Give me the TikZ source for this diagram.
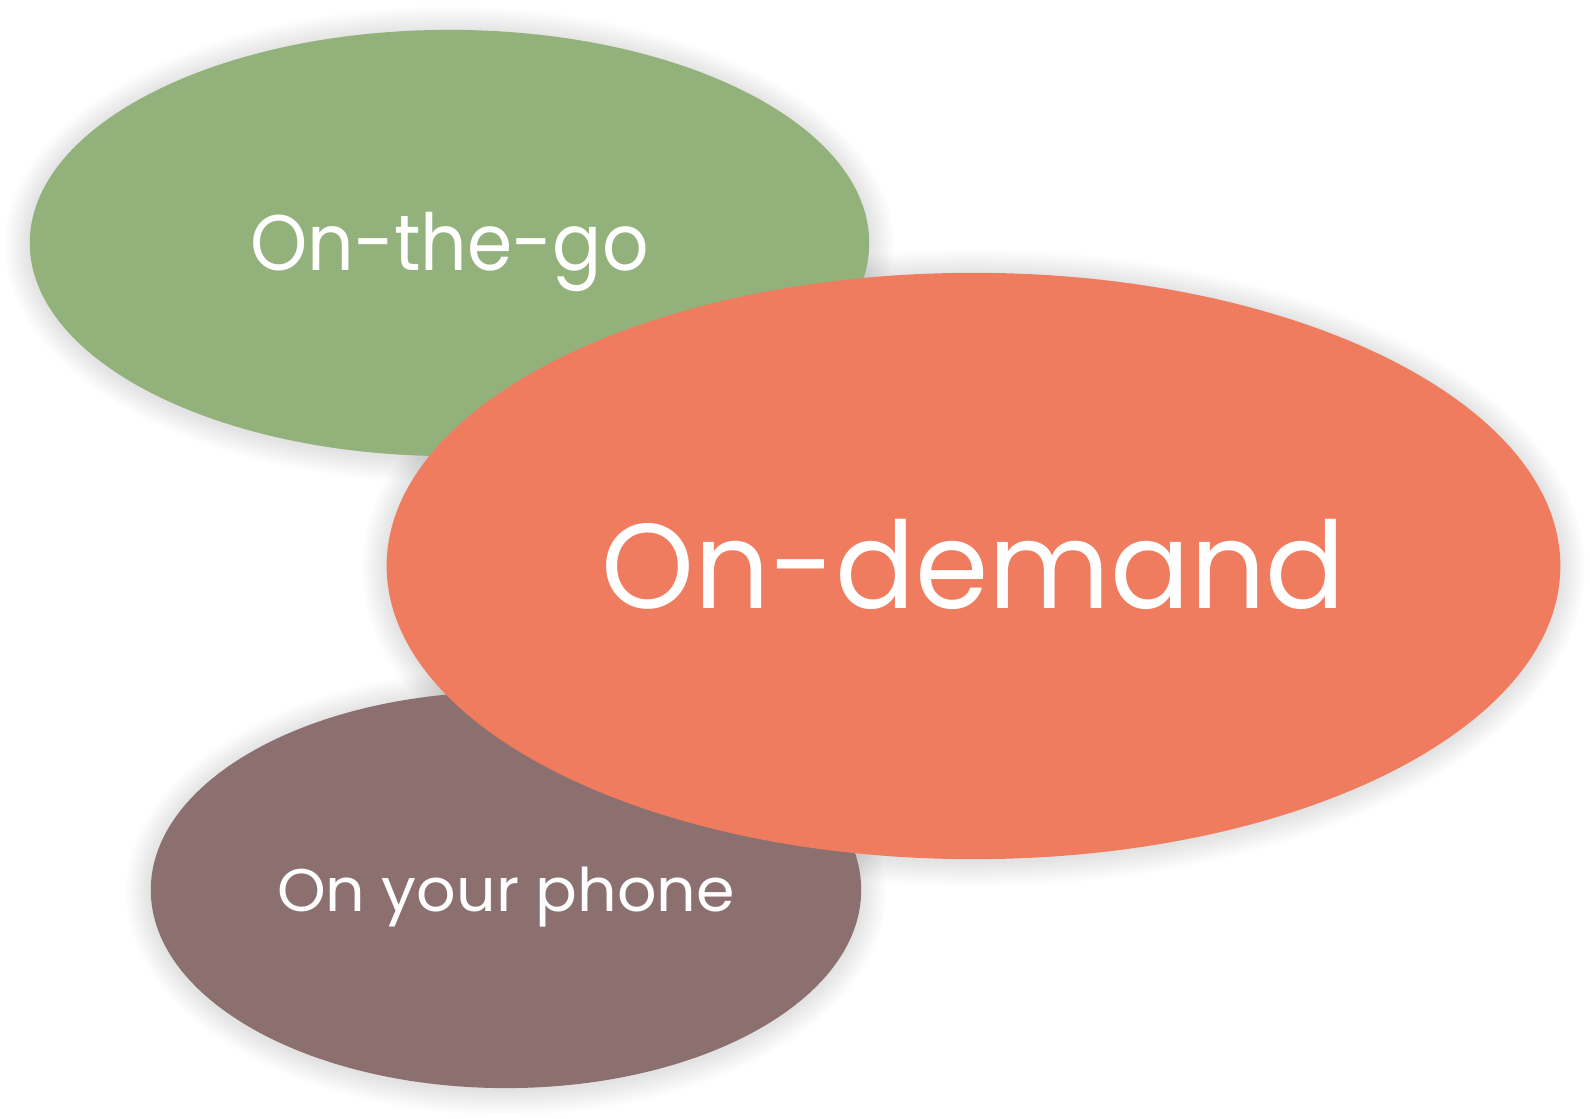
\documentclass[tikz,border=0pt]{standalone}
\usepackage{fontspec}
\setmainfont{Poppins}
\usetikzlibrary{shapes.geometric}

\definecolor{gogreen}{HTML}{93B27B}
\definecolor{demandred}{HTML}{F07C60}
\definecolor{phonebrown}{HTML}{8C706F}

\tikzset{blob/.style={ellipse, inner sep=0pt, text=white, text depth=0pt},
    haze/.style={black, opacity=0.007}}

\begin{document}
\begin{tikzpicture}[x=0.01cm, y=-0.01cm]

    \useasboundingbox (0,0) rectangle (1590,1119);

    % soft shadows under all three
    \foreach \cx/\cy/\rx/\ry in {449.5/243/419.5/213, 506/890/355/198, 973.5/566/586.5/293}
        \foreach \k in {1,...,14}
            \fill[haze] (\cx,\cy+2) ellipse [x radius=\rx+\k*1.8, y radius=\ry+\k*1.8];

    \node (go) [blob, fill=gogreen, minimum width=8.39cm, minimum height=4.26cm, text height=15.65pt, font=\fontsize{22.4}{26}\selectfont] at (449.5,243) {\scalebox{0.925}[1]{On-the-go}};
    \node (phone) [blob, fill=phonebrown, minimum width=7.10cm, minimum height=3.96cm, text height=11.95pt, font=\fontsize{17.1}{20}\selectfont] at (506,890) {\scalebox{1.03}[1]{On your phone}};
    \node (demand) [blob, fill=demandred, minimum width=11.73cm, minimum height=5.86cm, text height=23.9pt, font=\fontsize{34.3}{40}\selectfont] at (973.5,566) {\scalebox{0.98}[1]{On-demand}};

\end{tikzpicture}
\end{document}
